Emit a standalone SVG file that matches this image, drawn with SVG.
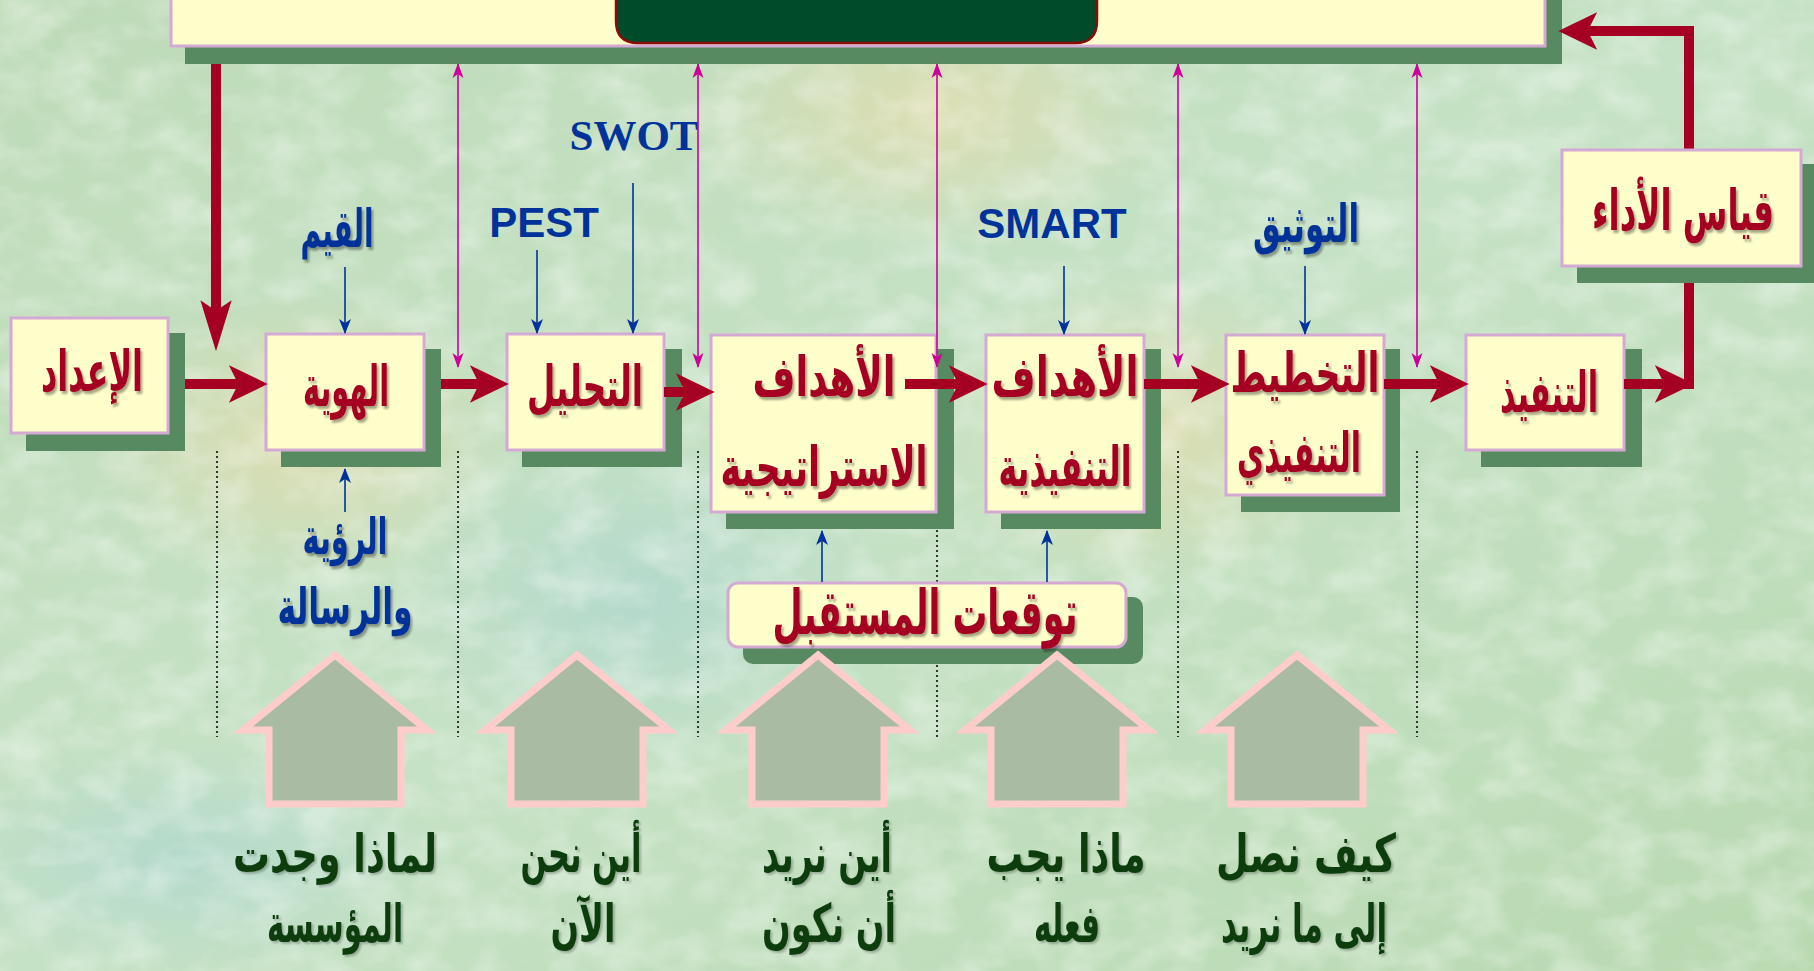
<svg xmlns="http://www.w3.org/2000/svg" width="1814" height="971" viewBox="0 0 1814 971">
<defs>
<style>
.box{fill:#FFFFCC;stroke:#D4AAD4;stroke-width:3}
.sh{fill:#588A62}
.red{fill:#A50021;font-family:"DejaVu Sans",sans-serif;font-weight:bold;text-anchor:middle;filter:url(#ts)}
.blue{fill:#003399;font-family:"DejaVu Sans",sans-serif;font-weight:bold;text-anchor:middle;filter:url(#ts)}
.green{fill:#0B3D0E;font-family:"DejaVu Sans",sans-serif;font-weight:bold;text-anchor:middle;filter:url(#ts2)}
.lat{fill:#003399;font-weight:bold;text-anchor:middle}
.rl{stroke:#A50021;stroke-width:10;fill:none;stroke-linejoin:miter}
.ml{stroke:#CC0099;stroke-width:1.6;fill:none;marker-start:url(#mh);marker-end:url(#mh)}
.bl{stroke:#003399;stroke-width:1.6;fill:none;marker-end:url(#bh)}
.dot{stroke:#333;stroke-width:2;stroke-dasharray:2 3;fill:none}
.up{fill:#A9BBA3;stroke:#FFCCCC;stroke-width:7;stroke-linejoin:miter}
</style>
<linearGradient id="bg" x1="0" y1="0" x2="1" y2="1">
<stop offset="0" stop-color="#BEDBB8"/>
<stop offset="0.5" stop-color="#C6E2C6"/>
<stop offset="1" stop-color="#B8D9B0"/>
</linearGradient>
<radialGradient id="y1" cx="0.5" cy="0.5" r="0.5">
<stop offset="0" stop-color="#E6DCAA" stop-opacity="0.7"/>
<stop offset="1" stop-color="#E6DCAA" stop-opacity="0"/>
</radialGradient>
<radialGradient id="b1" cx="0.5" cy="0.5" r="0.5">
<stop offset="0" stop-color="#A8D4D0" stop-opacity="0.6"/>
<stop offset="1" stop-color="#A8D4D0" stop-opacity="0"/>
</radialGradient>
<filter id="ts" x="-10%" y="-20%" width="130%" height="150%">
<feDropShadow dx="2" dy="3" stdDeviation="1.2" flood-color="#000" flood-opacity="0.35"/>
</filter>
<filter id="ts2" x="-10%" y="-20%" width="130%" height="150%">
<feDropShadow dx="2" dy="2" stdDeviation="1" flood-color="#000" flood-opacity="0.25"/>
</filter>
<filter id="tex" x="0" y="0" width="100%" height="100%">
<feTurbulence type="fractalNoise" baseFrequency="0.02 0.03" numOctaves="3" seed="4"/>
<feColorMatrix type="matrix" values="0 0 0 0 1  0 0 0 0 1  0 0 0 0 1  0 0 0 -2.2 1.35"/>
</filter>
<marker id="rh" markerUnits="userSpaceOnUse" markerWidth="40" markerHeight="40" viewBox="0 -17 34 34" refX="12" refY="0" orient="auto">
<path d="M0,-16 L33,0 L0,16 L8,0 z" fill="#A50021"/>
</marker>
<marker id="rhL" markerUnits="userSpaceOnUse" markerWidth="52" markerHeight="34" viewBox="0 -16 50 32" refX="16" refY="0" orient="auto">
<path d="M0,-15 L49,0 L0,15 L10,0 z" fill="#A50021"/>
</marker>
<marker id="mh" markerUnits="userSpaceOnUse" markerWidth="16" markerHeight="12" viewBox="0 -6 16 12" refX="14" refY="0" orient="auto-start-reverse">
<path d="M0,-5.5 L15,0 L0,5.5 L4,0 z" fill="#CC0099"/>
</marker>
<marker id="bh" markerUnits="userSpaceOnUse" markerWidth="16" markerHeight="14" viewBox="0 -7 16 14" refX="14" refY="0" orient="auto">
<path d="M0,-6 L15,0 L0,6 L4,0 z" fill="#003399"/>
</marker>
</defs>

<g id="background">
<rect width="1814" height="971" fill="url(#bg)"/>
<ellipse cx="930" cy="110" rx="260" ry="140" fill="url(#y1)"/>
<ellipse cx="300" cy="440" rx="220" ry="150" fill="url(#y1)"/>
<ellipse cx="640" cy="600" rx="260" ry="180" fill="url(#b1)"/>
<ellipse cx="1150" cy="430" rx="220" ry="160" fill="url(#y1)"/>
<ellipse cx="180" cy="860" rx="260" ry="120" fill="url(#b1)"/>
<rect width="1814" height="971" filter="url(#tex)" opacity="0.35"/>
</g>

<g id="banner">
<rect class="sh" x="185" y="-10" width="1377" height="74"/>
<rect class="box" x="171" y="-10" width="1374" height="56"/>
<path d="M616,-10 V21 Q616,43 638,43 H1075 Q1097,43 1097,21 V-10 z" fill="#004B2A" stroke="#8B0A0A" stroke-width="2.5"/>
</g>

<g id="node-edad">
<rect class="sh" x="26" y="333" width="159" height="118"/>
<rect class="box" x="11" y="318" width="157" height="115"/>
<text class="red" x="92" y="391" font-size="56" direction="rtl" textLength="102" lengthAdjust="spacingAndGlyphs">الإعداد</text>
</g>

<g id="node-hawiya">
<rect class="sh" x="281" y="349" width="160" height="118"/>
<rect class="box" x="266" y="334" width="158" height="116"/>
<text class="red" x="346" y="406" font-size="56" direction="rtl" textLength="86" lengthAdjust="spacingAndGlyphs">الهوية</text>
</g>

<g id="node-tahlil">
<rect class="sh" x="522" y="349" width="160" height="118"/>
<rect class="box" x="507" y="334" width="157" height="116"/>
<text class="red" x="585" y="406" font-size="56" direction="rtl" textLength="116" lengthAdjust="spacingAndGlyphs">التحليل</text>
</g>

<g id="node-strategic">
<rect class="sh" x="726" y="349" width="228" height="180"/>
<rect class="box" x="711" y="335" width="225" height="177"/>
<text class="red" x="824" y="396" font-size="55" direction="rtl" textLength="143" lengthAdjust="spacingAndGlyphs">الأهداف</text>
<text class="red" x="824" y="486" font-size="55" direction="rtl" textLength="207" lengthAdjust="spacingAndGlyphs">الاستراتيجية</text>
</g>

<g id="node-operational">
<rect class="sh" x="1001" y="349" width="160" height="180"/>
<rect class="box" x="986" y="335" width="158" height="177"/>
<text class="red" x="1065" y="396" font-size="55" direction="rtl" textLength="147" lengthAdjust="spacingAndGlyphs">الأهداف</text>
<text class="red" x="1065" y="486" font-size="55" direction="rtl" textLength="133" lengthAdjust="spacingAndGlyphs">التنفيذية</text>
</g>

<g id="node-planning">
<rect class="sh" x="1241" y="349" width="159" height="163"/>
<rect class="box" x="1226" y="335" width="158" height="160"/>
<text class="red" x="1305" y="392" font-size="55" direction="rtl" textLength="149" lengthAdjust="spacingAndGlyphs">التخطيط</text>
<text class="red" x="1299" y="472" font-size="55" direction="rtl" textLength="124" lengthAdjust="spacingAndGlyphs">التنفيذي</text>
</g>

<g id="node-tanfeedh">
<rect class="sh" x="1481" y="349" width="161" height="118"/>
<rect class="box" x="1466" y="335" width="158" height="115"/>
<text class="red" x="1549" y="412" font-size="56" direction="rtl" textLength="98" lengthAdjust="spacingAndGlyphs">التنفيذ</text>
</g>

<g id="dividers">
<line class="dot" x1="217" y1="451" x2="217" y2="737"/>
<line class="dot" x1="458" y1="451" x2="458" y2="737"/>
<line class="dot" x1="698" y1="451" x2="698" y2="737"/>
<line class="dot" x1="937" y1="530" x2="937" y2="737"/>
<line class="dot" x1="1178" y1="451" x2="1178" y2="737"/>
<line class="dot" x1="1417" y1="451" x2="1417" y2="737"/>
</g>

<g id="node-future">
<rect x="743" y="597" width="400" height="67" rx="10" fill="#588A62"/>
<rect x="728" y="583" width="398" height="64" rx="10" class="box"/>
<text class="red" x="925" y="634" font-size="62" direction="rtl" textLength="305" lengthAdjust="spacingAndGlyphs">توقعات المستقبل</text>
</g>

<g id="labels">
<text class="blue" x="337" y="247" font-size="52" direction="rtl" textLength="73" lengthAdjust="spacingAndGlyphs">القيم</text>
<text class="lat" x="544" y="237" font-size="42" font-family="'Liberation Sans',Arial,sans-serif">PEST</text>
<text class="lat" x="634" y="150" font-size="43" font-family="'Liberation Serif','Times New Roman',serif">SWOT</text>
<text class="lat" x="1052" y="238" font-size="42" font-family="'Liberation Sans',Arial,sans-serif">SMART</text>
<text class="blue" x="1306" y="242" font-size="52" direction="rtl" textLength="106" lengthAdjust="spacingAndGlyphs">التوثيق</text>
<text class="blue" x="345" y="554" font-size="50" direction="rtl" textLength="85" lengthAdjust="spacingAndGlyphs">الرؤية</text>
<text class="blue" x="345" y="624" font-size="50" direction="rtl" textLength="135" lengthAdjust="spacingAndGlyphs">والرسالة</text>
</g>

<g id="questions">
<path class="up" d="M335,655 L427,730 L401,730 L401,804 L269,804 L269,730 L243,730 Z"/>
<path class="up" d="M577,655 L669,730 L643,730 L643,804 L511,804 L511,730 L485,730 Z"/>
<path class="up" d="M818,655 L910,730 L884,730 L884,804 L752,804 L752,730 L726,730 Z"/>
<path class="up" d="M1057,655 L1149,730 L1123,730 L1123,804 L991,804 L991,730 L965,730 Z"/>
<path class="up" d="M1297,655 L1389,730 L1363,730 L1363,804 L1231,804 L1231,730 L1205,730 Z"/>
<text class="green" x="335" y="872" font-size="53" direction="rtl" textLength="204" lengthAdjust="spacingAndGlyphs">لماذا وجدت</text>
<text class="green" x="335" y="942" font-size="53" direction="rtl" textLength="136" lengthAdjust="spacingAndGlyphs">المؤسسة</text>
<text class="green" x="581" y="872" font-size="53" direction="rtl" textLength="121" lengthAdjust="spacingAndGlyphs">أين نحن</text>
<text class="green" x="583" y="942" font-size="53" direction="rtl" textLength="65" lengthAdjust="spacingAndGlyphs">الآن</text>
<text class="green" x="827" y="872" font-size="53" direction="rtl" textLength="130" lengthAdjust="spacingAndGlyphs">أين نريد</text>
<text class="green" x="829" y="942" font-size="53" direction="rtl" textLength="134" lengthAdjust="spacingAndGlyphs">أن نكون</text>
<text class="green" x="1066" y="872" font-size="53" direction="rtl" textLength="159" lengthAdjust="spacingAndGlyphs">ماذا يجب</text>
<text class="green" x="1067" y="942" font-size="53" direction="rtl" textLength="66" lengthAdjust="spacingAndGlyphs">فعله</text>
<text class="green" x="1306" y="872" font-size="53" direction="rtl" textLength="180" lengthAdjust="spacingAndGlyphs">كيف نصل</text>
<text class="green" x="1304" y="942" font-size="53" direction="rtl" textLength="166" lengthAdjust="spacingAndGlyphs">إلى ما نريد</text>
</g>

<g id="connectors">
<path class="rl" d="M216,64 V317" marker-end="url(#rhL)"/>
<path class="rl" d="M185,384 H243" marker-end="url(#rh)"/>
<path class="rl" d="M441,384 H484" marker-end="url(#rh)"/>
<path class="rl" d="M664,392 H690" marker-end="url(#rh)"/>
<path class="rl" d="M905,384 H963" marker-end="url(#rh)"/>
<path class="rl" d="M1144,384 H1205" marker-end="url(#rh)"/>
<path class="rl" d="M1384,384 H1444" marker-end="url(#rh)"/>
<path class="rl" d="M1624,384 H1669" marker-end="url(#rh)"/>
<path class="rl" d="M1689,389 V280"/>
<path class="rl" d="M1689,152 V31 H1583" marker-end="url(#rh)"/>
<line class="ml" x1="458" y1="64" x2="458" y2="367"/>
<line class="ml" x1="698" y1="64" x2="698" y2="367"/>
<line class="ml" x1="937" y1="64" x2="937" y2="367"/>
<line class="ml" x1="1178" y1="64" x2="1178" y2="367"/>
<line class="ml" x1="1417" y1="64" x2="1417" y2="367"/>
<line class="bl" x1="345" y1="267" x2="345" y2="333"/>
<line class="bl" x1="537" y1="250" x2="537" y2="333"/>
<line class="bl" x1="633" y1="183" x2="633" y2="333"/>
<line class="bl" x1="1064" y1="266" x2="1064" y2="334"/>
<line class="bl" x1="1305" y1="266" x2="1305" y2="334"/>
<line class="bl" x1="345" y1="512" x2="345" y2="469"/>
<line class="bl" x1="822" y1="582" x2="822" y2="531"/>
<line class="bl" x1="1047" y1="582" x2="1047" y2="531"/>
</g>

<g id="node-performance">
<rect class="sh" x="1577" y="164" width="250" height="119"/>
<rect class="box" x="1562" y="150" width="239" height="116"/>
<text class="red" x="1683" y="230" font-size="56" direction="rtl" textLength="182" lengthAdjust="spacingAndGlyphs">قياس الأداء</text>
</g>
</svg>
